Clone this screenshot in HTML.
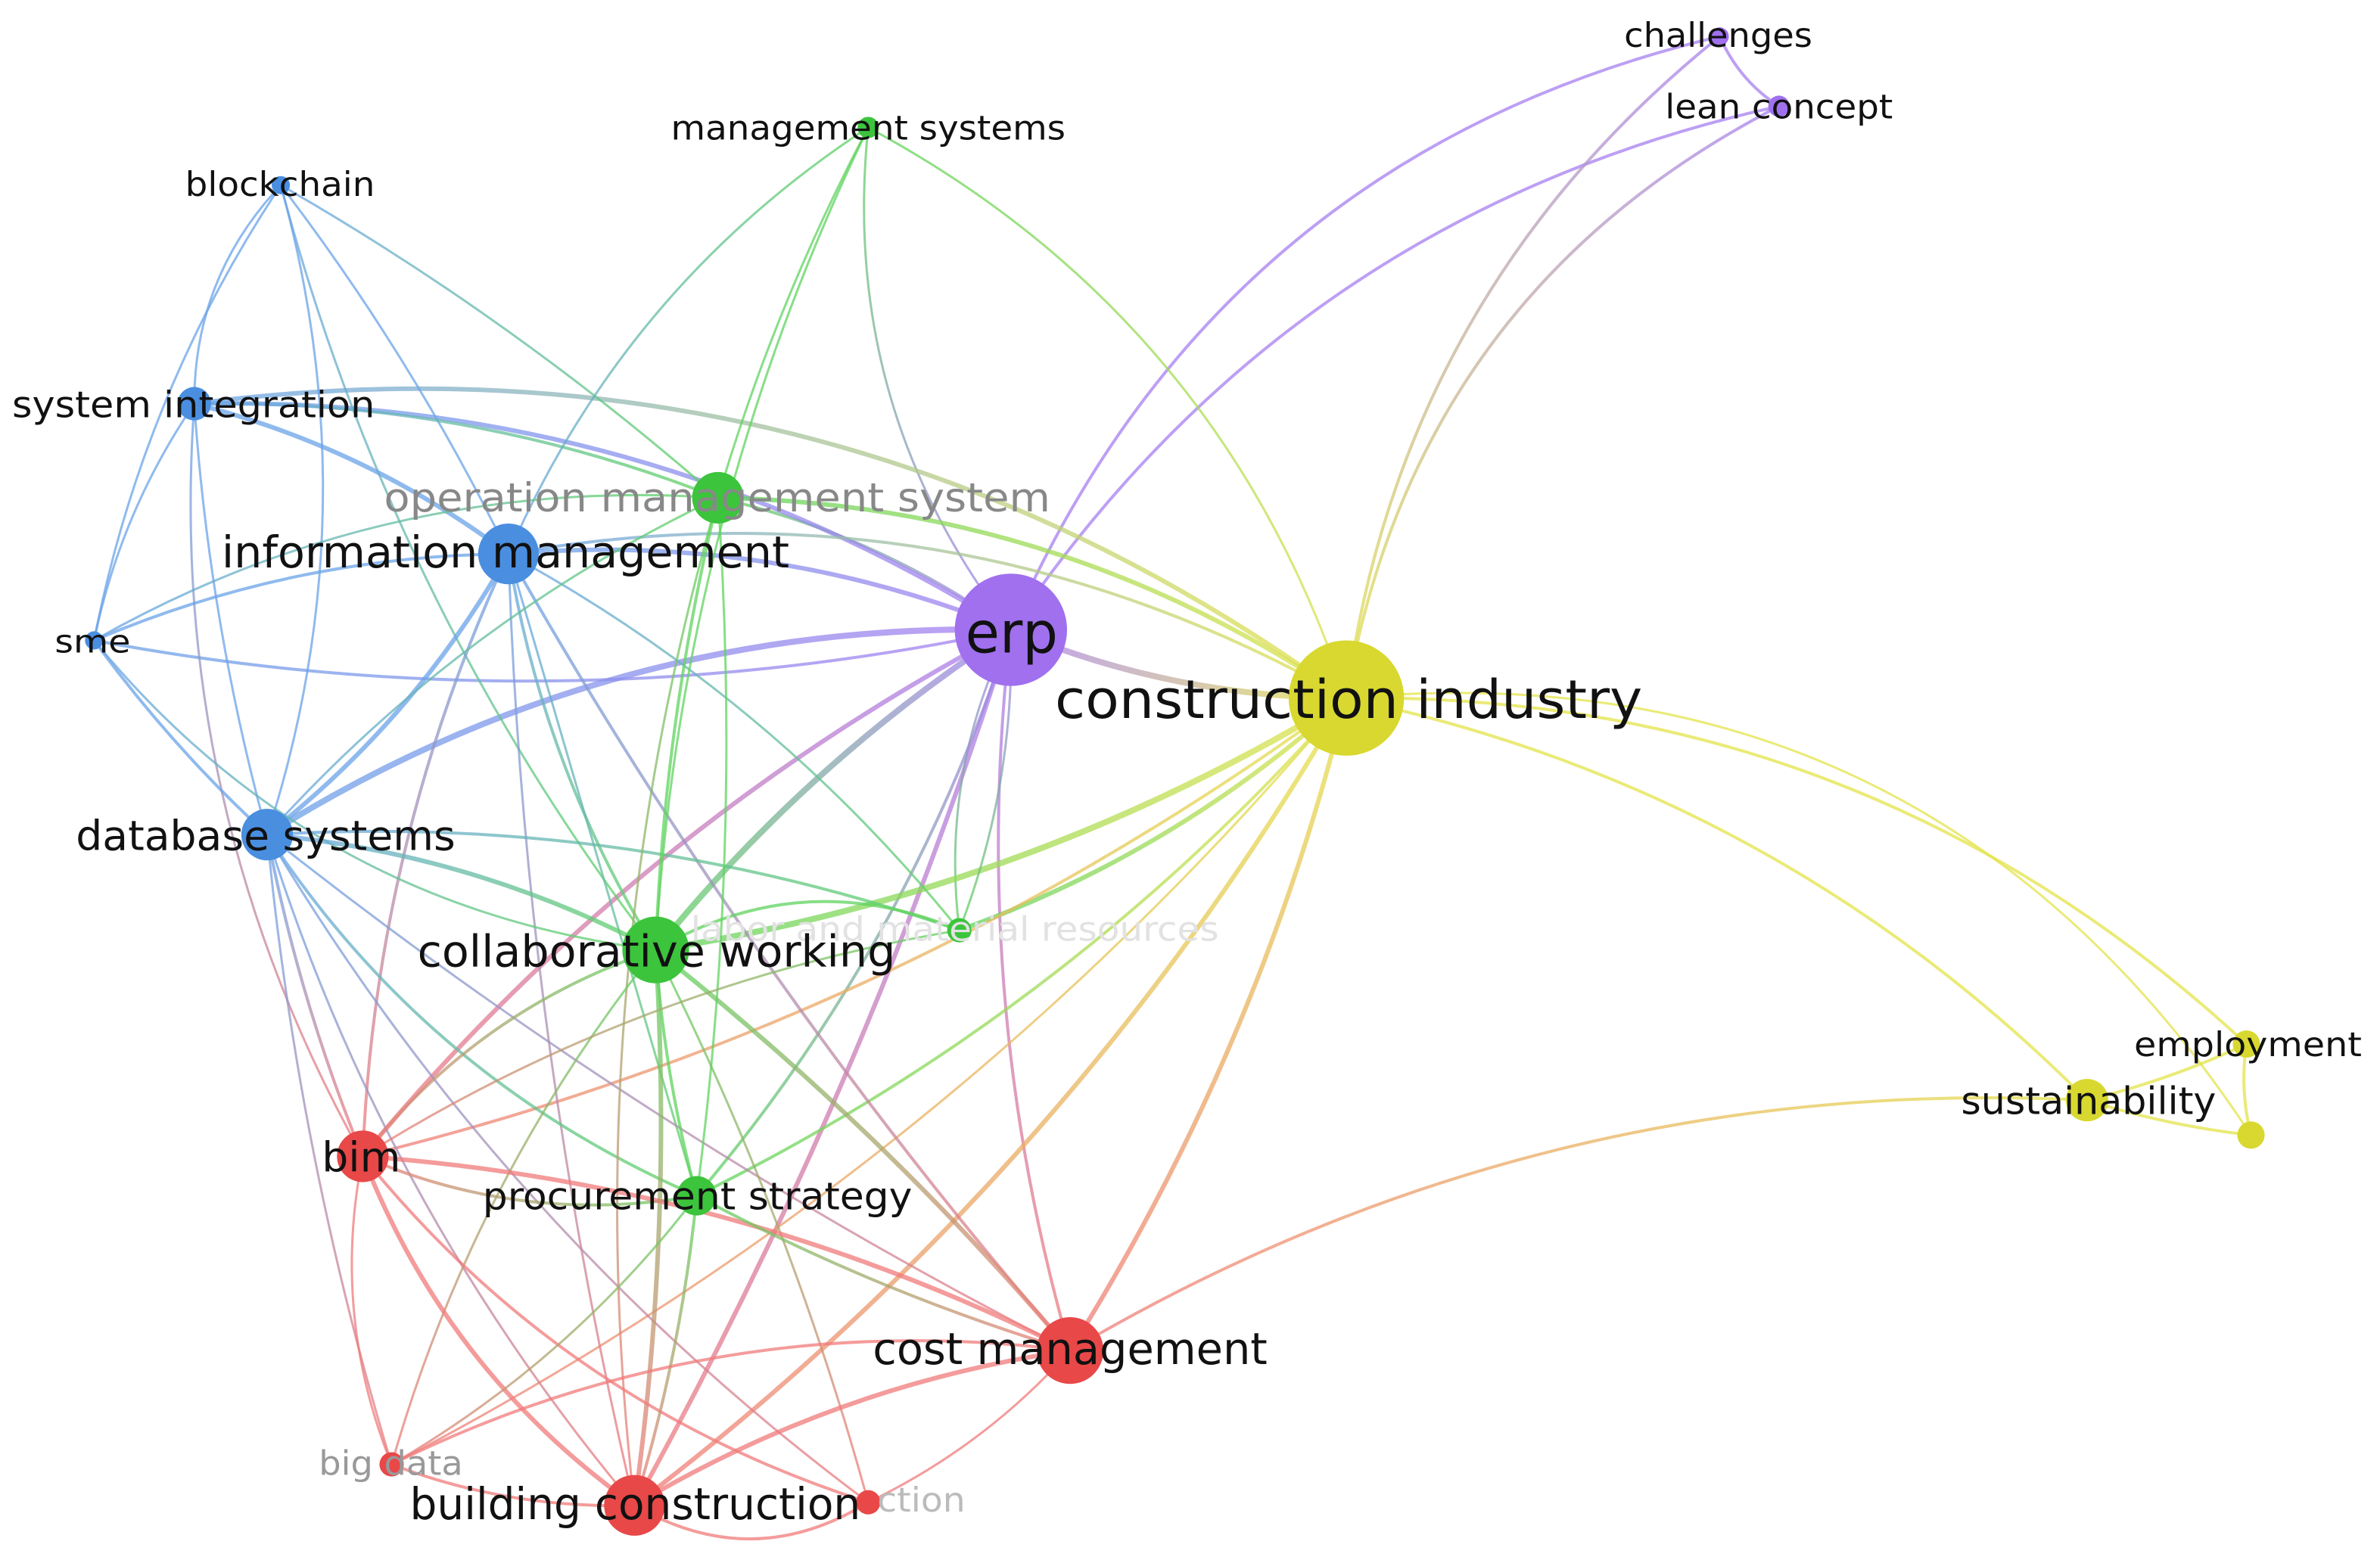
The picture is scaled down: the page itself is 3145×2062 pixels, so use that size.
<!DOCTYPE html>
<html><head><meta charset="utf-8"><style>
html,body{margin:0;padding:0;background:#fff;width:3145px;height:2062px;overflow:hidden}
svg{display:block}
text{font-family:"DejaVu Sans Condensed","Liberation Sans",sans-serif;}
</style></head><body>
<svg id="s" width="3145" height="2062" viewBox="0 0 1568 1028" xmlns="http://www.w3.org/2000/svg">
<defs id="d"></defs>
<g id="e" fill="none" stroke-linecap="round"></g>
<g id="n"></g>
<g id="t"></g>
</svg>
<script>
var C={b:"#6aa3e8",g:"#5fd35f",p:"#a77ff0",y:"#e3e34a",r:"#f07a7a"};
var N={
bc:[185,122,6,"b"],si:[128,266,11,"b"],im:[335,365,20,"b"],sme:[62,422,6,"b"],db:[176,550,17,"b"],
ms:[572,84,7,"g"],om:[473,328,17,"g"],lab:[632,613,8,"g"],cw:[432,626,22,"g"],ps:[459,788,13,"g"],
erp:[666,415,37,"p"],ch:[1133,24,6,"p"],lc:[1172,70,7,"p"],
ci:[887,460,38,"y"],su:[1375,725,14,"y"],em:[1480,688,9,"y"],n3:[1483,748,9,"y"],
bim:[239,762,17,"r"],cm:[705,890,22,"r"],bd:[258,965,8,"r"],bcn:[418,992,20,"r"],ct:[572,990,8,"r"]};
var E=[
["erp","ci",4,.1],["erp","ch",2,-.25],["erp","lc",2,-.2],["erp","im",3,.12],["erp","om",2,.1],["erp","si",3,.15],["erp","db",4,.15],["erp","cw",4,.08],["erp","bim",3,.1],["erp","cm",2,.1],["erp","bcn",3,-.05],["erp","lab",1.5,.15],["erp","ps",2,-.1],["erp","sme",2,-.1],["erp","ms",1.5,-.2],
["ci","ch",2,-.2],["ci","lc",2,-.25],["ci","su",2,-.15],["ci","em",2,-.2],["ci","n3",1.5,-.3],["ci","om",3,.15],["ci","cw",4,-.1],["ci","lab",3,-.1],["ci","bim",2,-.1],["ci","cm",3,-.08],["ci","bcn",3,-.1],["ci","bd",1.5,-.1],["ci","si",3,.2],["ci","ms",1.5,.2],["ci","im",2,.18],["ci","ps",2,-.1],
["bc","si",1.5,.2],["bc","im",1.5,-.05],["bc","db",1.5,-.15],["bc","sme",1.5,.1],["bc","cw",1.5,.1],["bc","om",1.5,-.05],
["si","im",3,-.1],["si","sme",1.5,.1],["si","db",1.5,.05],["si","bim",1.5,.15],["si","om",2,-.1],
["im","sme",2,.1],["im","db",3,-.1],["im","cw",2,.1],["im","ps",1.5,0],["im","cm",2,.05],["im","bcn",1.5,.05],["im","bim",2,.1],["im","lab",1.5,-.1],["im","ms",1.5,-.15],
["sme","db",2,.05],["sme","cw",1.5,.2],["sme","om",1.5,-.15],
["db","cw",3,-.1],["db","bim",2,.05],["db","ps",2,.15],["db","bcn",1.5,.1],["db","bd",1.5,.05],["db","cm",1.5,.05],["db","lab",2,-.1],["db","ct",1.5,.1],
["ms","om",1.5,.05],["ms","cw",1.5,.1],
["om","cw",2,.05],["om","ps",1.5,-.05],["om","db",1.5,.1],["om","bcn",1.5,.1],
["cw","bim",2,.15],["cw","ps",2,.05],["cw","cm",3,-.05],["cw","bcn",3,-.05],["cw","bd",1.5,.1],["cw","lab",2,-.25],["cw","ct",1.5,-.05],
["bim","ps",2,.15],["bim","cm",3,-.1],["bim","bcn",3,.15],["bim","bd",1.5,.15],["bim","ct",2,.15],["bim","lab",1.5,-.1],
["ps","cm",2,.05],["ps","bcn",2,-.05],["ps","bd",1.5,-.1],
["cm","bcn",3,.1],["cm","bd",2,.15],["cm","ct",1.5,-.1],["cm","su",2,-.15],
["bcn","bd",2,-.1],["bcn","ct",2,.3],
["su","em",2,.05],["su","n3",2,.05],["em","n3",2,.1],["lab","erp",1.5,.1],["ch","lc",2,.15]];
var ns="http://www.w3.org/2000/svg",eg=document.getElementById("e"),d=document.getElementById("d");
E.forEach(function(x,i){var a=N[x[0]],b=N[x[1]];var dx=b[0]-a[0],dy=b[1]-a[1];
var mx=(a[0]+b[0])/2-dy*x[3],my=(a[1]+b[1])/2+dx*x[3];
var g=document.createElementNS(ns,"linearGradient");g.setAttribute("id","g"+i);g.setAttribute("gradientUnits","userSpaceOnUse");
g.setAttribute("x1",a[0]);g.setAttribute("y1",a[1]);g.setAttribute("x2",b[0]);g.setAttribute("y2",b[1]);
g.innerHTML='<stop offset="0" stop-color="'+C[a[3]]+'"/><stop offset="1" stop-color="'+C[b[3]]+'"/>';d.appendChild(g);
var p=document.createElementNS(ns,"path");p.setAttribute("d","M"+a[0]+","+a[1]+"Q"+mx+","+my+" "+b[0]+","+b[1]);
p.setAttribute("stroke","url(#g"+i+")");p.setAttribute("stroke-width",x[2]);p.setAttribute("stroke-opacity",.75);eg.appendChild(p);});
var NC={b:"#4a8ee0",g:"#3cc43c",p:"#a070ee",y:"#d8d830",r:"#e84848"};
var ng=document.getElementById("n");
for(var k in N){var a=N[k];var c=document.createElementNS(ns,"circle");c.setAttribute("cx",a[0]);c.setAttribute("cy",a[1]);c.setAttribute("r",a[2]);c.setAttribute("fill",NC[a[3]]);ng.appendChild(c);}
var T=[["blockchain",122,129,247,22,"#111"],["system integration",8,275,247,24,"#111"],["operation management system",253,337,692,26,"#888"],
["information management",146,374,520,29,"#111"],["sme",36,430,86,21,"#111"],["management systems",442,92,702,22,"#111"],
["challenges",1070,31,1194,22,"#111"],["lean concept",1097,78,1247,22,"#111"],["erp",636,430,697,38,"#111"],
["construction industry",695,473,1082,35,"#111"],["database systems",50,560,300,27,"#111"],["labor and material resources",455,620,803,22,"#e2e2e2"],
["collaborative working",275,637,590,29,"#111"],["bim",212,772,264,27,"#111"],["procurement strategy",318,797,601,25,"#111"],
["employment",1406,696,1556,22,"#111"],["sustainability",1292,734,1460,25,"#111"],["cost management",575,899,835,29,"#111"],
["big data",210,972,305,22,"#999"],["ction",578,996,636,22,"#bbb"],["building construction",270,1001,567,29,"#111"]];
var tg=document.getElementById("t");
T.forEach(function(x){var t=document.createElementNS(ns,"text");t.textContent=x[0];t.setAttribute("x",x[1]);t.setAttribute("y",x[2]);
t.setAttribute("textLength",x[3]-x[1]);t.setAttribute("lengthAdjust","spacingAndGlyphs");t.setAttribute("font-size",x[4]);t.setAttribute("fill",x[5]);tg.appendChild(t);});
</script>
</body></html>
